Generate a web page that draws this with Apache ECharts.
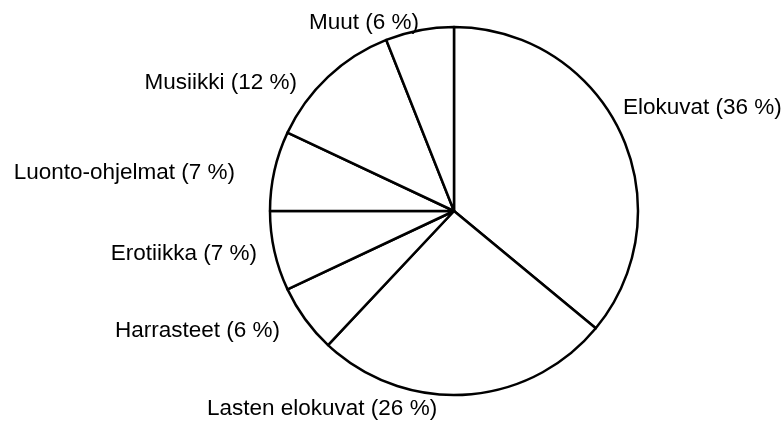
<!DOCTYPE html>
<html>
<head>
<meta charset="utf-8">
<script src="https://cdn.jsdelivr.net/npm/echarts@6/dist/echarts.min.js"></script>
<style>
  html, body { margin: 0; padding: 0; background: #fff; }
  #chart { width: 784px; height: 425px; }
</style>
</head>
<body>
<div id="chart"></div>
<script>
const categories = ['Elokuvat', 'Lasten elokuvat', 'Harrasteet', 'Erotiikka', 'Luonto-ohjelmat', 'Musiikki', 'Muut'];
const shares = [36, 26, 6, 7, 7, 12, 6];

// where each label sits: [x, y, align]
const labelPos = [
    [623, 108, 'left'],
    [207, 409, 'left'],
    [280, 331, 'right'],
    [257, 254, 'right'],
    [235, 173, 'right'],
    [297, 83, 'right'],
    [309, 23, 'left']
];

const chart = echarts.init(document.getElementById('chart'));

const option = {
    animation: false,
    series: [{
        type: 'pie',
        center: [454, 211],
        radius: 184,
        startAngle: 90,
        clockwise: true,
        silent: true,
        itemStyle: {
            color: '#fff',
            borderColor: '#000',
            borderWidth: 2.5
        },
        label: {
            show: true,
            position: 'outside',
            overflow: 'none',
            formatter: function (p) {
                return p.name + ' (' + p.value + ' %)';
            },
            color: '#000',
            fontFamily: '"Liberation Sans", Arial, sans-serif',
            fontSize: 22.5
        },
        labelLine: { show: false },
        labelLayout: function (params) {
            const p = labelPos[params.dataIndex];
            return { x: p[0], y: p[1], align: p[2], verticalAlign: 'middle' };
        },
        data: categories.map(function (name, i) {
            return { name: name, value: shares[i] };
        })
    }]
};
chart.setOption(option);
</script>
</body>
</html>
